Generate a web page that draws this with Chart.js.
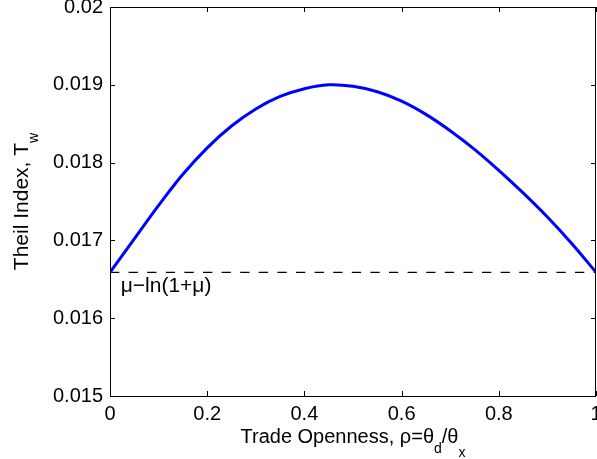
<!DOCTYPE html>
<html>
<head>
<meta charset="utf-8">
<script src="https://cdn.jsdelivr.net/npm/chart.js@4"></script>
<style>
  html, body { margin:0; padding:0; background:#fff; }
  #wrap { width:597px; height:459px; position:relative; }
</style>
</head>
<body>
<div id="wrap"><canvas id="theilChart"></canvas></div>
<script>
// values
const rho   = [0,0.05,0.1,0.15,0.2,0.25,0.3,0.35,0.4,0.45,0.5,0.55,0.6,0.65,0.7,0.75,0.8,0.85,0.9,0.95,1];
const theil = [0.01659,0.01702,0.01745,0.01785,0.01819,0.01847,0.01869,0.01885,0.01895,0.01900,0.01898,
               0.01891,0.01879,0.01862,0.01841,0.01817,0.01790,0.01761,0.01730,0.01696,0.01659];
const baseRho   = [0, 1];
const baseTheil = [0.01659, 0.01659];
const xTicks = [0, 0.2, 0.4, 0.6, 0.8, 1];
const yTicks = [0.015, 0.016, 0.017, 0.018, 0.019, 0.02];

const FONT = '"Liberation Sans", Arial, Helvetica, sans-serif';

// draw text with subscripts: parts = [[text, subOffset or 0], ...]
function richText(ctx, parts, x, y, size) {
  const subSize = 14;
  let total = 0;
  parts.forEach(([t, sub]) => {
    ctx.font = (sub ? subSize : size) + 'px ' + FONT;
    total += ctx.measureText(t).width;
  });
  let cx = x - total / 2;
  ctx.textAlign = 'left';
  ctx.textBaseline = 'alphabetic';
  parts.forEach(([t, sub]) => {
    ctx.font = (sub ? subSize : size) + 'px ' + FONT;
    ctx.fillText(t, cx, y + sub);
    cx += ctx.measureText(t).width;
  });
}

const framePlugin = {
  id: 'frame',
  afterDraw(chart) {
    const { ctx, chartArea: a, scales: { x, y } } = chart;
    ctx.save();
    ctx.strokeStyle = '#000';
    ctx.lineWidth = 1;
    ctx.strokeRect(a.left + 0.5, a.top + 0.5, a.right - a.left - 1, a.bottom - a.top);
    // inward ticks on all four sides
    ctx.beginPath();
    const tl = 5;
    xTicks.forEach(v => {
      const px = Math.round(x.getPixelForValue(v)) + 0.5;
      ctx.moveTo(px, a.bottom); ctx.lineTo(px, a.bottom - tl);
      ctx.moveTo(px, a.top);    ctx.lineTo(px, a.top + tl);
    });
    yTicks.forEach(v => {
      const py = Math.round(y.getPixelForValue(v)) + 0.5;
      ctx.moveTo(a.left, py);  ctx.lineTo(a.left + tl, py);
      ctx.moveTo(a.right, py); ctx.lineTo(a.right - tl, py);
    });
    ctx.stroke();

    ctx.fillStyle = '#000';
    // dashed line label
    ctx.font = '21px ' + FONT;
    ctx.textAlign = 'left';
    ctx.textBaseline = 'alphabetic';
    ctx.fillText('\u03bc\u2212ln(1+\u03bc)', x.getPixelForValue(0.022), y.getPixelForValue(baseTheil[0]) + 20);

    // x title
    richText(ctx, [['Trade Openness, \u03c1=\u03b8', 0], ['d', 10], ['/\u03b8', 0], ['x', 14]],
             (a.left + a.right) / 2, 443, 20);
    // y title
    ctx.translate(28, (a.top + a.bottom) / 2);
    ctx.rotate(-Math.PI / 2);
    richText(ctx, [['Theil Index, T', 0], ['w', 10]], 0, 0, 21);
    ctx.restore();
  }
};

new Chart(document.getElementById('theilChart'), {
  type: 'line',
  data: {
    datasets: [
      { data: rho.map((r, i) => ({ x: r, y: theil[i] })), borderColor: '#0000ff', borderWidth: 3,
        pointRadius: 0, tension: 0.35, fill: false },
      { data: baseRho.map((r, i) => ({ x: r, y: baseTheil[i] })), borderColor: '#000', borderWidth: 1.3,
        borderDash: [9.3, 9.3], pointRadius: 0, fill: false }
    ]
  },
  options: {
    responsive: true,
    maintainAspectRatio: false,
    animation: false,
    layout: { padding: { top: 7, right: 1, left: 0, bottom: 0 } },
    plugins: { legend: { display: false }, tooltip: { enabled: false } },
    scales: {
      x: {
        type: 'linear', min: 0, max: 1,
        grid: { display: false, drawTicks: false }, border: { display: false },
        afterBuildTicks: s => { s.ticks = xTicks.map(v => ({ value: v })); },
        afterFit: s => { s.height = 63; s.paddingLeft = 0; s.paddingRight = 0; },
        ticks: { color: '#000', padding: 6, maxRotation: 0, autoSkip: false,
                 font: { family: FONT, size: 20 }, callback: v => String(v) }
      },
      y: {
        type: 'linear', min: 0.015, max: 0.02,
        grid: { display: false, drawTicks: false }, border: { display: false },
        afterBuildTicks: s => { s.ticks = yTicks.map(v => ({ value: v })); },
        afterFit: s => { s.width = 110; s.paddingTop = 0; s.paddingBottom = 0; },
        ticks: { color: '#000', padding: 7, autoSkip: false,
                 font: { family: FONT, size: 20 }, callback: v => String(v) }
      }
    }
  },
  plugins: [framePlugin]
});
</script>
</body>
</html>
